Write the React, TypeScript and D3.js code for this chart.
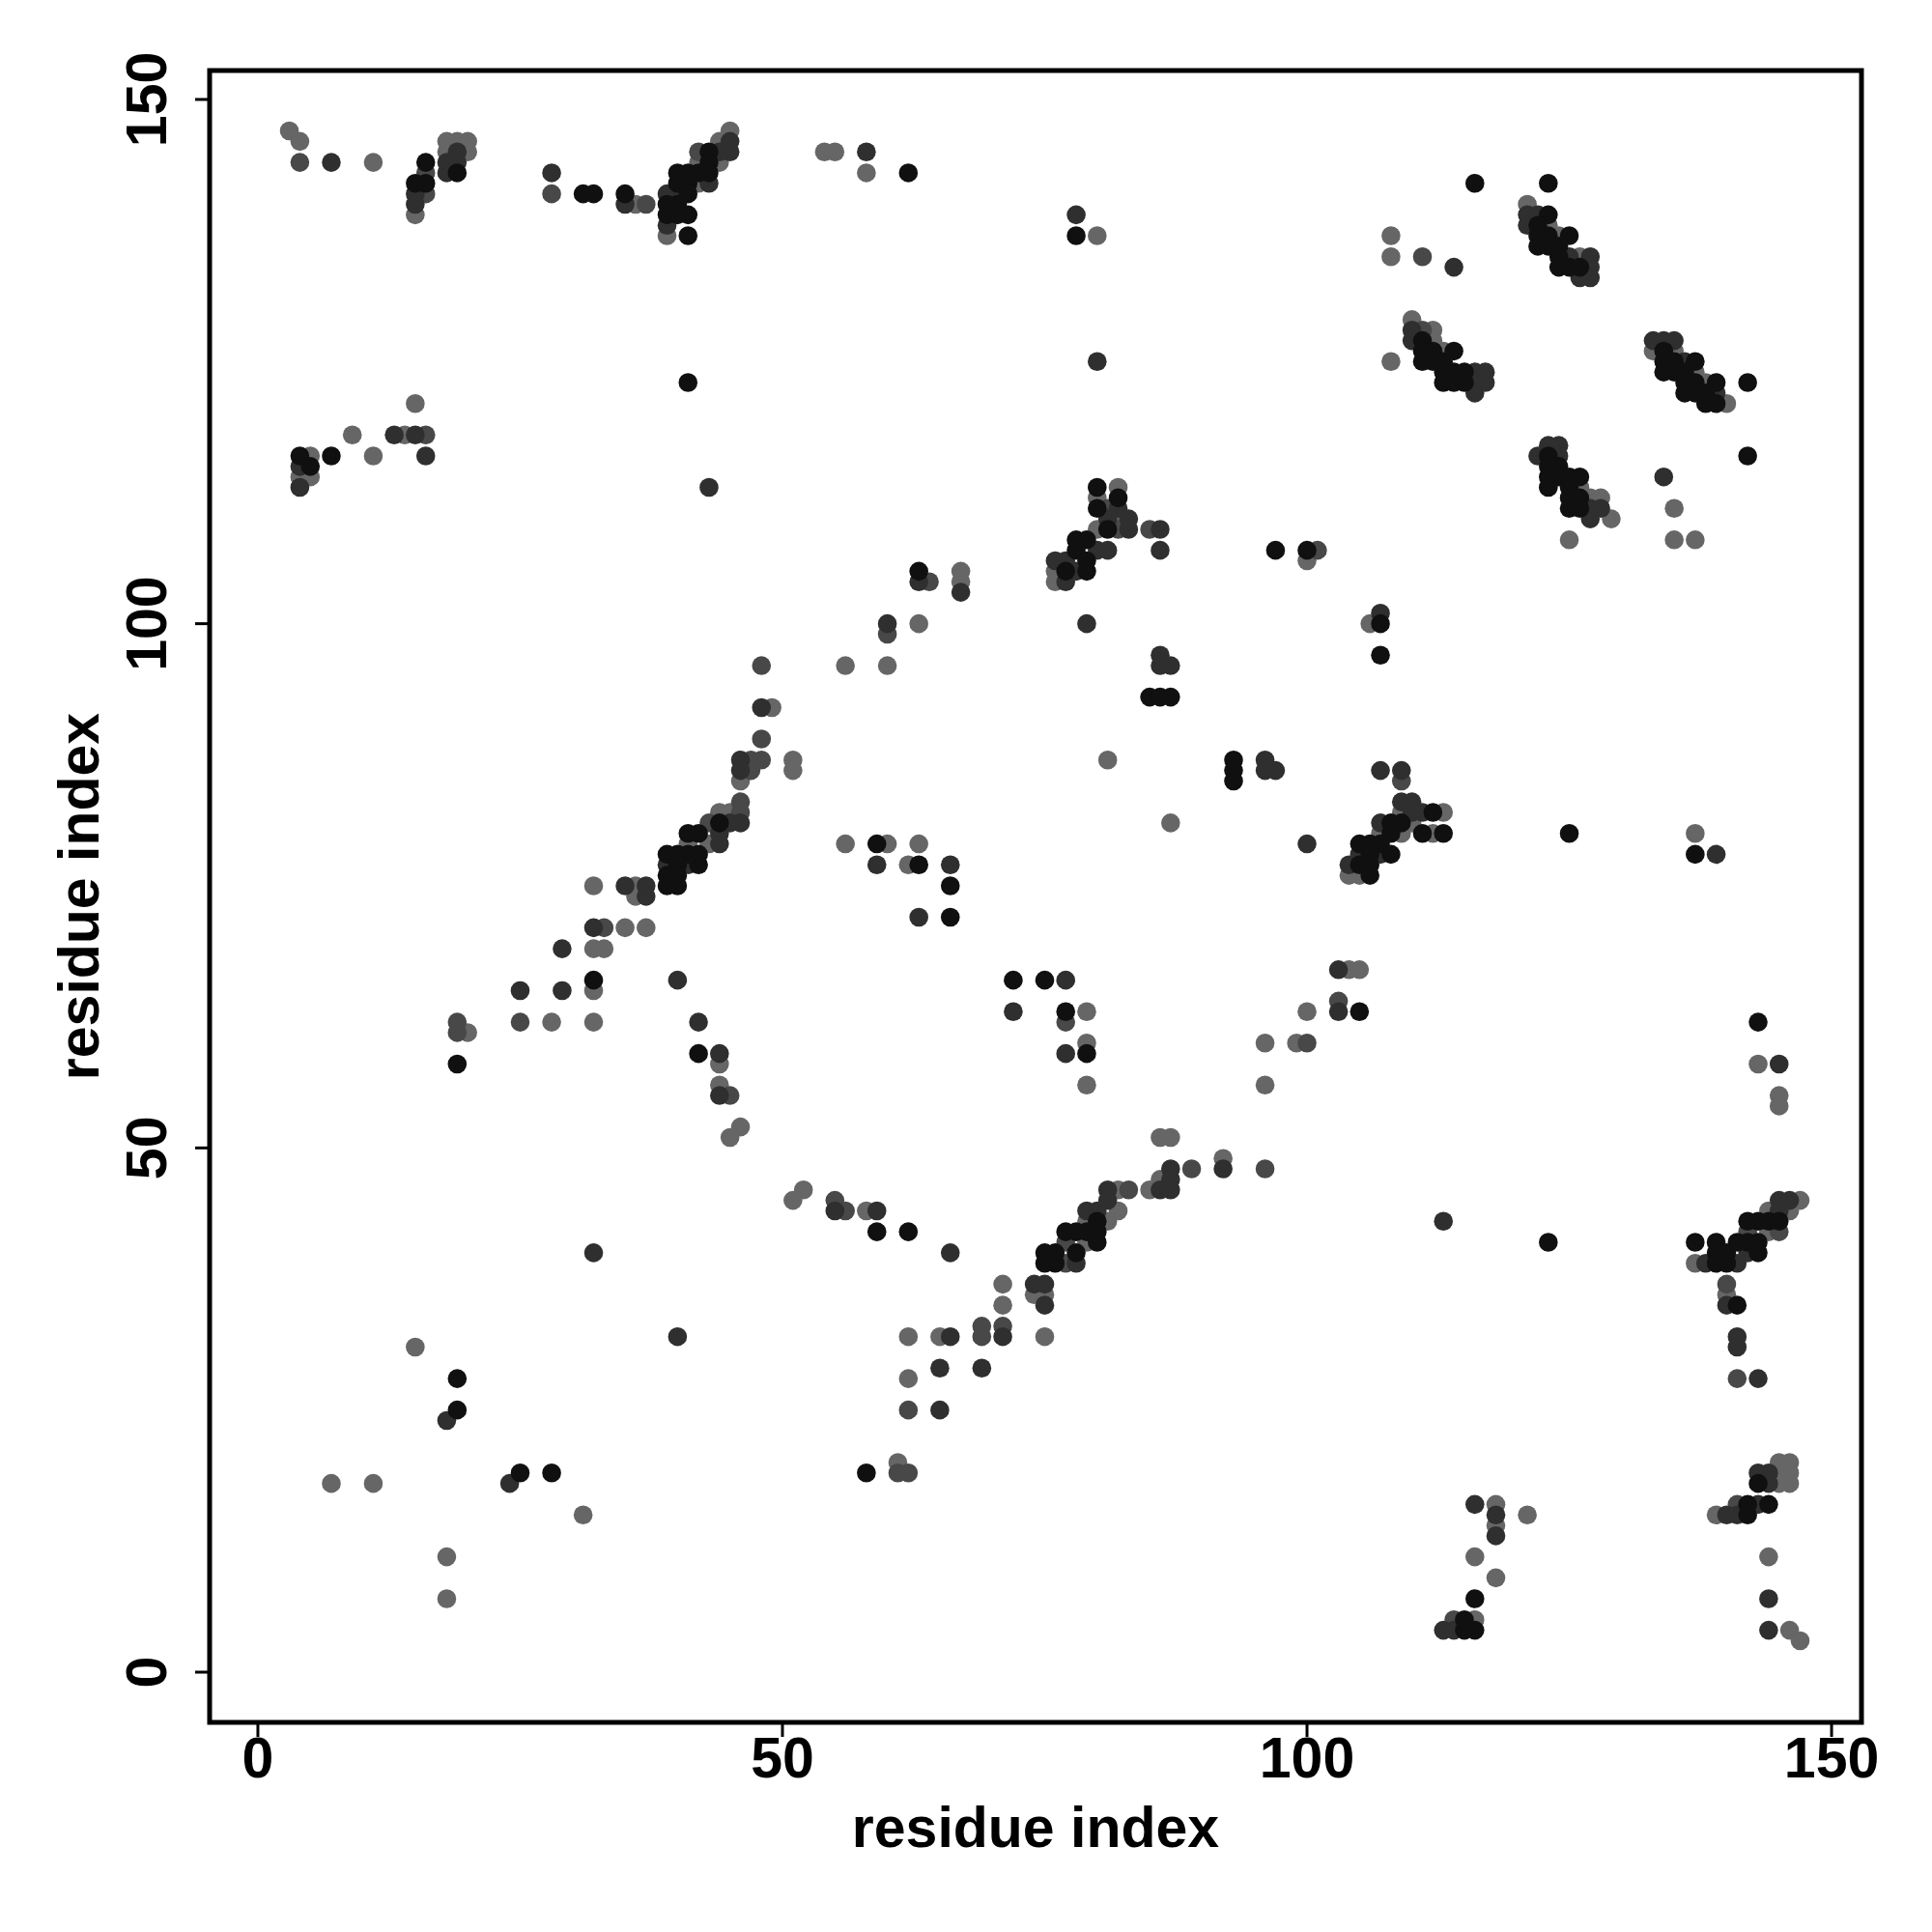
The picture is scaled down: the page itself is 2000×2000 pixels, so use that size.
import React from "react";
import * as d3 from "d3";

type P = [number, number];

// residue pairs grouped by greyscale level (contact confidence)
const contactsBlack: P[] = [
  [16,144],[16,142],[15,142],[19,143],[31,141],[32,141],[35,141],[4,116],[7,116],[5,115],
  [43,145],[43,144],[43,143],[42,143],[41,143],[41,142],[41,141],[41,139],[41,137],[40,143],[40,142],[40,140],[40,139],[39,140],[39,139],[62,143],[41,123],[63,105],
  [78,137],[111,127],[111,126],[111,125],[112,126],[112,125],[113,125],[113,124],[113,123],[114,126],[114,124],[114,123],[115,124],[115,123],[80,113],[82,112],[80,111],[81,109],[78,108],[79,108],[78,107],[79,106],[77,105],[79,105],[97,107],[100,107],[107,100],
  [116,142],[123,142],[123,139],[122,138],[122,137],[122,136],[123,137],[123,136],[125,137],[124,136],[124,135],[124,134],[125,134],[126,134],[134,126],[134,125],[135,125],[137,125],[134,124],[135,124],[136,124],[136,123],[137,123],[139,123],[136,122],[137,122],[138,122],[138,121],[139,121],[142,123],[142,116],[123,116],[123,115],[124,115],[123,114],[124,114],[125,114],[126,114],[123,113],[125,113],[125,112],[126,112],[125,111],[126,111],
  [32,66],[19,58],
  [44,81],[42,80],[41,80],[42,78],[42,77],[41,78],[40,78],[40,77],[39,78],[39,76],[40,76],[39,75],[40,75],[59,79],[63,77],[66,75],[66,72],[42,59],[72,66],
  [107,97],[85,93],[86,93],[87,93],[93,87],[93,86],[93,85],[112,82],[108,81],[109,81],[111,80],[113,80],[108,80],[105,79],[106,79],[107,79],[108,78],[106,78],[105,77],[106,77],[106,76],[75,66],[77,63],[79,59],[105,63],
  [125,80],[137,78],[143,62],
  [19,28],[19,25],[25,19],[28,19],
  [59,42],[62,42],[58,19],
  [75,40],[75,39],[76,40],[76,39],[77,42],[78,42],[78,40],[80,43],[80,42],[80,41],[79,42],
  [123,41],[137,41],[139,41],[139,40],[139,39],[140,40],[140,39],[141,41],[142,43],[142,41],[143,43],[143,41],[143,40],[144,43],[145,43],[141,35],[116,7],[115,4],[116,4],[115,5],[142,15],[142,16],[144,16],[143,18],
];

const contactsDark: P[] = [
  [7,144],[15,141],[15,140],[19,145],[18,144],[19,144],[18,143],[28,143],[35,140],[13,118],[15,118],[16,116],[4,115],[4,113],
  [45,146],[45,145],[44,145],[43,142],[40,141],[39,141],[39,138],[58,145],[43,113],[63,104],[67,103],[60,100],
  [78,139],[80,125],[114,134],[110,128],[110,127],[116,124],[117,124],[116,123],[117,123],[116,122],[82,111],[81,110],[83,110],[83,109],[86,109],[86,107],[80,107],[81,107],[77,106],[76,106],[78,105],[77,104],[107,101],[79,100],
  [121,139],[121,138],[122,139],[125,135],[127,135],[127,134],[126,133],[127,133],[133,127],[134,127],[135,127],[136,125],[139,122],[122,116],[123,117],[124,117],[124,116],[127,111],[128,111],[127,110],[134,114],
  [35,75],[37,75],[37,74],[32,71],[29,69],[25,65],[29,65],
  [48,92],[46,87],[46,86],[46,81],[45,81],[44,80],[44,79],[41,77],[39,77],[59,77],[66,77],[63,72],[40,66],[42,62],[44,59],[44,55],[72,63],
  [86,97],[86,96],[87,96],[96,87],[96,86],[97,86],[100,79],[107,86],[109,86],[109,83],[110,83],[110,82],[111,82],[107,81],[107,78],[105,78],[104,77],[77,66],[77,59],[103,67],[103,63],[87,48],[87,47],[92,48],
  [139,78],[145,58],
  [32,40],[18,24],[24,18],
  [55,44],[59,44],[66,40],[40,32],[66,32],[65,29],[65,25],[71,32],[69,29],[74,37],
  [75,37],[75,35],[78,39],[79,44],[80,44],[81,46],[81,45],[86,46],[87,46],[113,43],[113,4],
  [138,39],[141,39],[142,40],[145,45],[145,44],[146,45],[140,35],[141,32],[141,31],[143,28],[116,16],[118,15],[118,13],[114,4],[140,15],[141,15],[143,16],[143,19],[144,19],[144,18],[144,7],[144,4],
];

const contactsMid: P[] = [
  [4,144],[16,143],[16,141],[28,141],[37,140],[16,118],
  [42,145],[64,104],
  [111,135],[111,128],[81,111],[82,109],[85,109],[101,107],
  [33,71],[25,62],[19,62],[19,61],
  [60,99],[48,96],[47,87],[48,87],[47,86],[48,89],[46,83],[46,82],[43,81],[45,55],
  [109,85],[77,62],[100,60],[103,64],[89,48],[96,48],
  [55,45],[56,44],[62,25],[69,33],[69,32],[71,33],[61,19],[62,19],
  [77,39],[77,41],[83,46],
  [142,42],[145,42],[140,37],[141,28],[114,5],[141,16],
];

const contactsGray: P[] = [
  [3,147],[4,146],[11,144],[15,139],[18,146],[19,146],[20,146],[18,145],[20,145],[36,140],[15,121],[9,118],[14,118],[5,116],[11,116],[4,114],[5,114],
  [45,147],[44,146],[44,144],[42,144],[42,142],[39,137],[54,145],[55,145],[58,143],[67,105],[67,104],[63,100],
  [80,137],[108,137],[108,135],[108,125],[110,129],[112,128],[112,127],[113,126],[82,113],[80,112],[82,110],[80,109],[76,105],[76,104],[100,106],[106,100],
  [121,140],[123,138],[124,137],[126,135],[133,126],[135,126],[137,124],[138,123],[140,121],[126,113],[127,112],[128,112],[129,110],[125,108],[135,111],[135,108],[137,108],
  [32,75],[36,75],[36,74],[35,71],[37,71],[32,69],[33,69],[32,65],[28,62],[32,62],[20,61],
  [56,96],[60,96],[49,92],[46,85],[51,87],[51,86],[45,82],[44,82],[43,79],[41,79],[56,79],[60,79],[63,79],[62,77],[44,58],[44,56],[46,52],[45,51],
  [81,87],[87,81],[109,82],[113,82],[110,81],[112,80],[107,80],[109,80],[104,76],[105,76],[79,63],[79,60],[79,56],[96,60],[96,56],[99,60],[100,63],[104,67],[105,67],[86,51],[87,51],[86,47],[92,49],
  [137,80],[143,58],[145,55],[145,54],
  [15,31],[7,18],[11,18],[31,15],[18,11],[18,7],
  [51,45],[52,46],[58,44],[62,32],[65,32],[62,28],[71,37],[71,35],[74,36],[75,32],[61,20],
  [75,36],[79,41],[79,43],[81,43],[82,46],[82,44],[85,46],
  [137,39],[144,44],[144,42],[146,44],[147,45],[140,36],[118,16],[118,14],[121,15],[116,11],[118,9],[116,5],[139,15],[145,19],[146,19],[145,20],[146,20],[146,18],[145,18],[144,11],[146,4],[147,3],
];

const xTicks = [0, 50, 100, 150];
const yTicks = [0, 50, 100, 150];
const axisTitle = "residue index";

export default function App() {
  const left = 217, right = 1927, top = 73, bottom = 1783;
  const x = d3.scaleLinear().domain([-4.6, 152.85]).range([left, right]);
  const y = d3.scaleLinear().domain([-4.79, 152.76]).range([bottom, top]);
  const layers: [P[], string][] = [
    [contactsGray, "#666666"],
    [contactsMid, "#484848"],
    [contactsDark, "#2f2f2f"],
    [contactsBlack, "#101010"],
  ];
  const font = "'Liberation Sans', Arial, Helvetica, sans-serif";
  return (
    <svg width={2000} height={2000} style={{ position: "absolute", left: 0, top: 0, background: "#fff" }}>
      <rect x={0} y={0} width={2000} height={2000} fill="#fff" />
      {layers.map(([pts, col], li) => (
        <g key={li} fill={col}>
          {pts.map((p, i) => (
            <circle key={i} cx={x(p[0])} cy={y(p[1])} r={9.8} />
          ))}
        </g>
      ))}
      <rect x={left} y={top} width={right - left} height={bottom - top} fill="none" stroke="#000" strokeWidth={5} />
      {xTicks.map((t) => (
        <g key={"x" + t}>
          <line x1={x(t)} x2={x(t)} y1={bottom} y2={bottom + 15} stroke="#000" strokeWidth={3} />
          <text x={x(t)} y={1840} textAnchor="middle" fontFamily={font} fontWeight="bold" fontSize={59}>{t}</text>
        </g>
      ))}
      {yTicks.map((t) => (
        <g key={"y" + t}>
          <line x1={left} x2={left - 15} y1={y(t)} y2={y(t)} stroke="#000" strokeWidth={3} />
          <text transform={`translate(172,${y(t)}) rotate(-90)`} textAnchor="middle" fontFamily={font} fontWeight="bold" fontSize={59}>{t}</text>
        </g>
      ))}
      <text x={(left + right) / 2} y={1912} textAnchor="middle" fontFamily={font} fontWeight="bold" fontSize={59}>{axisTitle}</text>
      <text transform={`translate(102,${(top + bottom) / 2}) rotate(-90)`} textAnchor="middle" fontFamily={font} fontWeight="bold" fontSize={59}>{axisTitle}</text>
    </svg>
  );
}
